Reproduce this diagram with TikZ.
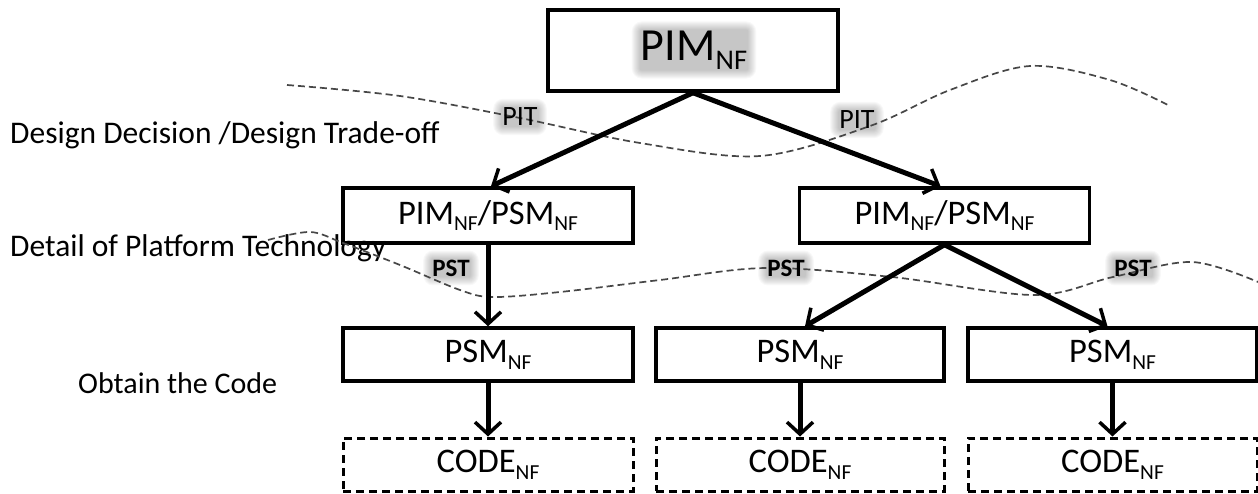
\documentclass[tikz,border=0pt]{standalone}
\usepackage{fontspec}
\setmainfont{Carlito}
\usetikzlibrary{arrows.meta,backgrounds}
\newcommand{\nf}{\raisebox{-0.2em}{\scalebox{0.62}{NF}}}
\newcommand{\glowat}[1]{%
  \begin{pgfonlayer}{background}
  \foreach \g in {0,...,8}{
    \fill[black, opacity=0.026, rounded corners=\g pt+2pt]
      ([shift={(-\g pt,-\g pt)}]#1.south west) rectangle ([shift={(\g pt,\g pt)}]#1.north east);
  }
  \end{pgfonlayer}}
\tikzset{
  box/.style={draw=black, line width=3.5pt, minimum width=290pt, inner sep=0pt},
  codebox/.style={box, line width=3pt, dash pattern=on 8pt off 5pt},
  lbl/.style={inner sep=1pt, text=black},
  side/.style={inner sep=0pt, anchor=west, font=\fontsize{31.5}{36}\selectfont},
  boxtxt/.style={font=\fontsize{34.5}{40}\selectfont},
  arr/.style={line width=5pt, -{Straight Barb[length=12pt,width=26pt,line width=3.5pt]}},
  curve/.style={draw=black!72, line width=1.7pt, dash pattern=on 7pt off 4pt},
  pit/.style={lbl, font=\fontsize{28}{32}\selectfont},
  pst/.style={lbl, font=\fontsize{25}{30}\selectfont\bfseries}
}
\begin{document}
\begin{tikzpicture}[x=1pt,y=-1pt]
\useasboundingbox (0,0) rectangle (1258,494);

% boxes
\node[box, minimum height=81pt] (top) at (693,50.5) {};
\node[lbl, font=\fontsize{46}{52}\selectfont] (toptxt) at (694,50) {PIM\nf};
\glowat{toptxt}

\node[box, boxtxt, minimum height=55pt] (midL) at (488,215.5) {PIM\nf/PSM\nf};
\node[box, boxtxt, minimum height=55pt] (midR) at (944.5,215.5) {PIM\nf/PSM\nf};

\node[box, boxtxt, minimum height=53pt] (psm1) at (488,354.5) {PSM\nf};
\node[box, boxtxt, minimum height=53pt, minimum width=288pt] (psm2) at (800,354.5) {PSM\nf};
\node[box, boxtxt, minimum height=53pt, minimum width=289pt] (psm3) at (1112.5,354.5) {PSM\nf};

\node[codebox, boxtxt, minimum height=53pt] (code1) at (488,464.5) {CODE\nf};
\node[codebox, boxtxt, minimum height=53pt, minimum width=288pt] (code2) at (800,464.5) {CODE\nf};
\node[codebox, boxtxt, minimum height=53pt, minimum width=289pt] (code3) at (1112.5,464.5) {CODE\nf};

% side labels
\node[side] (l1) at (10,135) {Design Decision /Design Trade-off};
\node[side] (l2) at (10,248) {Detail of Platform Technology};
\node[side, font=\fontsize{30}{34}\selectfont] (l3) at (78,383) {Obtain the Code};

% dashed curves
\draw[curve] plot[smooth, tension=0.55] coordinates {(287,85) (400,96) (520,118) (640,143) (760,156) (870,126) (950,90) (1030,66) (1110,80) (1170,106)};
\draw[curve] plot[smooth, tension=0.55] coordinates {(268,240) (310,232) (343,243) (400,265) (460,290) (493,297) (560,292) (660,280) (766,268) (892,277) (1034,295) (1113,277) (1192,262) (1258,282)};

% PIT / PST labels
\node[pit] (pit1) at (520,117) {PIT};
\glowat{pit1}
\node[pit] (pit2) at (857,120) {PIT};
\glowat{pit2}
\node[pst] (pst1) at (451,268) {PST};
\glowat{pst1}
\node[pst] (pst2) at (786,268) {PST};
\glowat{pst2}
\node[pst] (pst3) at (1133,268) {PST};
\glowat{pst3}

% arrows
\draw[arr] (top.south) -- ([xshift=3pt]midL.north);
\draw[arr] (top.south) -- ([xshift=-4pt]midR.north);
\draw[arr] (midL.south) -- (psm1.north);
\draw[arr] (midR.south) -- ([xshift=5pt]psm2.north);
\draw[arr] (midR.south) -- ([xshift=-5pt]psm3.north);
\draw[arr] (psm1.south) -- (code1.north);
\draw[arr] (psm2.south) -- (code2.north);
\draw[arr] (psm3.south) -- (code3.north);
\end{tikzpicture}
\end{document}
